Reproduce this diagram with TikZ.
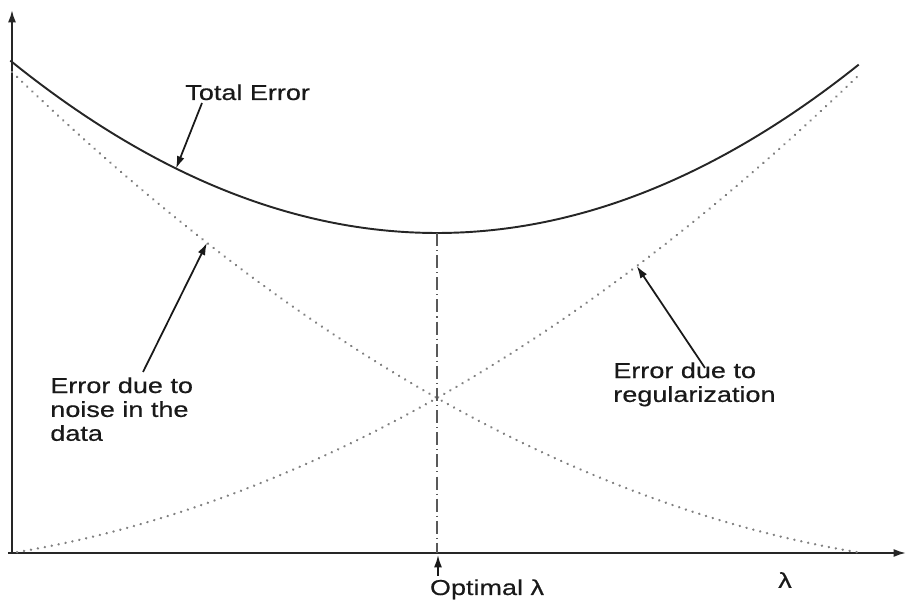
\documentclass[tikz,border=0pt]{standalone}
\usepackage{fontspec}
\setmainfont[FakeStretch=1.25,FakeBold=0.5]{Liberation Sans}
\usetikzlibrary{arrows.meta}
\begin{document}
\begin{tikzpicture}[x=0.02cm,y=0.02cm,
  declare function={noise(\u)=342*(1-\u)*(1-\u)+139*(1-\u);
                    reg(\u)=342*\u*\u+139*\u;
                    total(\u)=noise(\u)+reg(\u)+10;},
  lbl/.style={inner sep=0pt,font=\fontsize{12.3}{13.6}\selectfont,align=left,text=black!90},
  dotcurve/.style={line width=1.5pt,line cap=round,dash pattern=on 0.01pt off 4pt,color=black!50},
  pointer/.style={-{Latex[length=7pt,width=4.5pt]},line width=1pt,color=black!90}]
\useasboundingbox (-12,-54) rectangle (896,553);

% axes
\draw[-{Latex[length=7pt,width=4.5pt]},line width=1.1pt,color=black!85] (-4,0) -- (894,0);
\draw[-{Latex[length=7pt,width=4.5pt]},line width=1.1pt,color=black!85] (0,-1) -- (0,543);

% curves
\draw[line width=1.1pt,color=black!85] plot[domain=-0.002:0.997,samples=90,smooth] ({850*\x},{total(\x)});
\draw[dotcurve] plot[domain=0:0.995,samples=90,smooth] ({850*\x},{noise(\x)});
\draw[dotcurve] plot[domain=0.006:0.995,samples=90,smooth] ({850*\x},{reg(\x)});

% optimum
\coordinate (optmin) at (425,{total(0.5)});
\coordinate (optbase) at (425,0);
\draw[line width=0.8pt,color=black!65,dash pattern=on 7.4pt off 2.3pt on 0.6pt off 2.3pt] (optmin) -- (optbase);

% labels
\node (totallbl) [lbl,anchor=base west] at (173,453) {Total Error};
\node (noiselbl) [lbl,anchor=north west] at (38,176) {Error due to\\noise in the\\data};
\node (reglbl) [lbl,anchor=north west] at (601,191) {Error due to\\regularization};
\node (optlbl) [lbl,anchor=base] at (475,-42) {Optimal λ};
\node (lambdalbl) [lbl] at (773,-27) {λ};

% pointers
\coordinate (totaltail) at (190,450);
\coordinate (totaltip) at ({850*0.193},{total(0.193)});
\coordinate (noisetail) at (131,181);
\coordinate (noisetip) at ({850*0.2294},{noise(0.2294)});
\coordinate (regtail) at (693,185);
\coordinate (regtip) at ({850*0.735},{reg(0.735)});
\coordinate (opttail) at (426,-23);
\coordinate (opttip) at (426,-2);

\draw[pointer] (totaltail) -- (totaltip);
\draw[pointer] (noisetail) -- (noisetip);
\draw[pointer] (regtail) -- (regtip);
\draw[pointer] (opttail) -- (opttip);

\end{tikzpicture}
\end{document}
